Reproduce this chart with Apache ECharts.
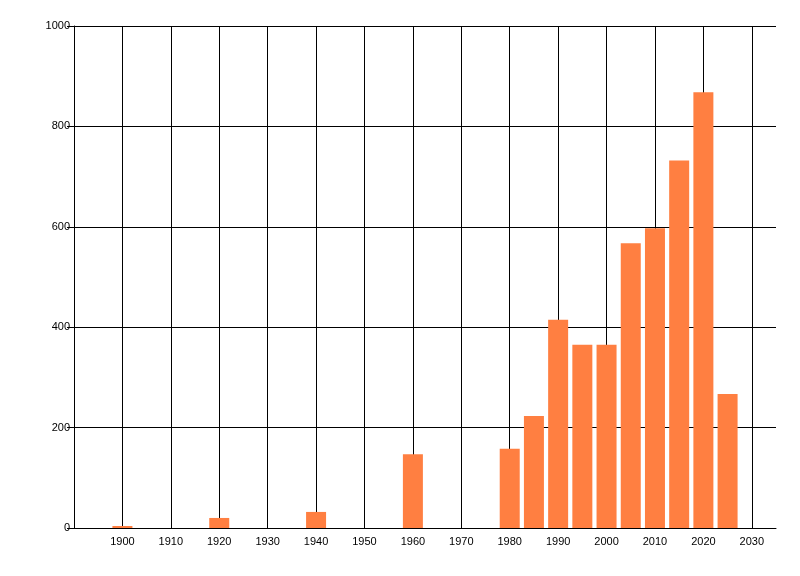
<!DOCTYPE html>
<html>
<head>
<meta charset="utf-8">
<script src="https://cdn.jsdelivr.net/npm/echarts@6/dist/echarts.min.js"></script>
<style>
html,body{margin:0;padding:0;background:#fff;}
#chart{width:800px;height:576px;}
</style>
</head>
<body>
<div id="chart"></div>
<script>
const years = [1900, 1920, 1940, 1960, 1980, 1985, 1990, 1995, 2000, 2005, 2010, 2015, 2020, 2025];
const counts = [4, 20, 32, 147, 158, 223, 415, 365, 365, 567, 597, 732, 868, 267];
const xTickStart = 1890, xTickEnd = 2035, xStep = 10;
const yTickMax = 1000, yStep = 200;

const chart = echarts.init(document.getElementById('chart'), null, {renderer: 'canvas'});
const font = {fontFamily: 'Liberation Sans, Arial, sans-serif', fontSize: 11, color: '#000'};
chart.setOption({
  animation: false,
  backgroundColor: '#fff',
  grid: {left: 74, right: 24, top: 26, bottom: 48, containLabel: false},
  xAxis: {
    type: 'value',
    min: xTickStart, max: xTickEnd, interval: xStep,
    axisLine: {show: true, lineStyle: {color: '#000', width: 1}},
    axisTick: {show: false},
    axisLabel: Object.assign({
      margin: 8, showMaxLabel: false, showMinLabel: false,
      formatter: v => (v === xTickStart || v === xTickEnd) ? '' : String(v)
    }, font),
    splitLine: {show: true, showMaxLine: false, lineStyle: {color: '#000', width: 1}}
  },
  yAxis: {
    type: 'value',
    min: 0, max: yTickMax, interval: yStep,
    axisLine: {show: true, lineStyle: {color: '#000', width: 1}},
    axisTick: {show: true, length: 7, lineStyle: {color: '#000'}},
    axisLabel: Object.assign({margin: 4, formatter: v => String(v)}, font),
    splitLine: {show: true, lineStyle: {color: '#000', width: 1}}
  },
  series: [{
    type: 'bar',
    barWidth: 20,
    itemStyle: {color: '#FF7F41'},
    data: years.map((y, i) => [y, counts[i]])
  }]
});
</script>
</body>
</html>
